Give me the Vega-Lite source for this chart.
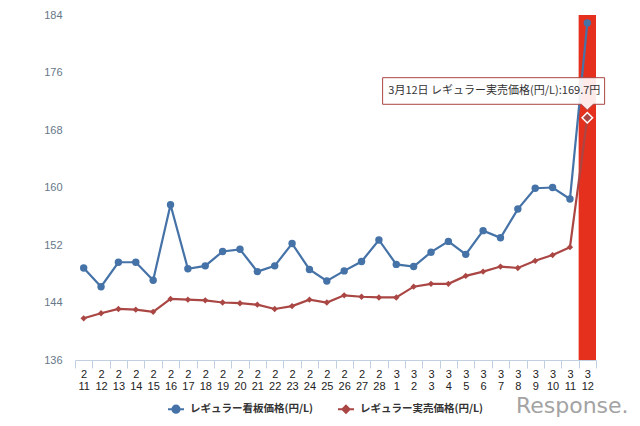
{
  "$schema": "https://vega.github.io/schema/vega-lite/v6.json",
  "width": 521,
  "height": 345,
  "autosize": {"type": "none"},
  "padding": {"left": 75, "top": 15, "right": 44, "bottom": 66},
  "background": "#ffffff",
  "datasets": {
    "prices": [
      {"date": "2/11", "series": "レギュラー看板価格(円/L)", "value": 148.8},
      {"date": "2/12", "series": "レギュラー看板価格(円/L)", "value": 146.2},
      {"date": "2/13", "series": "レギュラー看板価格(円/L)", "value": 149.6},
      {"date": "2/14", "series": "レギュラー看板価格(円/L)", "value": 149.6},
      {"date": "2/15", "series": "レギュラー看板価格(円/L)", "value": 147.1},
      {"date": "2/16", "series": "レギュラー看板価格(円/L)", "value": 157.6},
      {"date": "2/17", "series": "レギュラー看板価格(円/L)", "value": 148.7},
      {"date": "2/18", "series": "レギュラー看板価格(円/L)", "value": 149.1},
      {"date": "2/19", "series": "レギュラー看板価格(円/L)", "value": 151.1},
      {"date": "2/20", "series": "レギュラー看板価格(円/L)", "value": 151.4},
      {"date": "2/21", "series": "レギュラー看板価格(円/L)", "value": 148.3},
      {"date": "2/22", "series": "レギュラー看板価格(円/L)", "value": 149.1},
      {"date": "2/23", "series": "レギュラー看板価格(円/L)", "value": 152.2},
      {"date": "2/24", "series": "レギュラー看板価格(円/L)", "value": 148.6},
      {"date": "2/25", "series": "レギュラー看板価格(円/L)", "value": 147.0},
      {"date": "2/26", "series": "レギュラー看板価格(円/L)", "value": 148.4},
      {"date": "2/27", "series": "レギュラー看板価格(円/L)", "value": 149.7},
      {"date": "2/28", "series": "レギュラー看板価格(円/L)", "value": 152.7},
      {"date": "3/1", "series": "レギュラー看板価格(円/L)", "value": 149.3},
      {"date": "3/2", "series": "レギュラー看板価格(円/L)", "value": 149.0},
      {"date": "3/3", "series": "レギュラー看板価格(円/L)", "value": 151.0},
      {"date": "3/4", "series": "レギュラー看板価格(円/L)", "value": 152.5},
      {"date": "3/5", "series": "レギュラー看板価格(円/L)", "value": 150.7},
      {"date": "3/6", "series": "レギュラー看板価格(円/L)", "value": 154.0},
      {"date": "3/7", "series": "レギュラー看板価格(円/L)", "value": 153.0},
      {"date": "3/8", "series": "レギュラー看板価格(円/L)", "value": 157.0},
      {"date": "3/9", "series": "レギュラー看板価格(円/L)", "value": 159.9},
      {"date": "3/10", "series": "レギュラー看板価格(円/L)", "value": 160.0},
      {"date": "3/11", "series": "レギュラー看板価格(円/L)", "value": 158.4},
      {"date": "3/12", "series": "レギュラー看板価格(円/L)", "value": 182.9},
      {"date": "2/11", "series": "レギュラー実売価格(円/L)", "value": 141.8},
      {"date": "2/12", "series": "レギュラー実売価格(円/L)", "value": 142.5},
      {"date": "2/13", "series": "レギュラー実売価格(円/L)", "value": 143.1},
      {"date": "2/14", "series": "レギュラー実売価格(円/L)", "value": 143.0},
      {"date": "2/15", "series": "レギュラー実売価格(円/L)", "value": 142.7},
      {"date": "2/16", "series": "レギュラー実売価格(円/L)", "value": 144.5},
      {"date": "2/17", "series": "レギュラー実売価格(円/L)", "value": 144.4},
      {"date": "2/18", "series": "レギュラー実売価格(円/L)", "value": 144.3},
      {"date": "2/19", "series": "レギュラー実売価格(円/L)", "value": 144.0},
      {"date": "2/20", "series": "レギュラー実売価格(円/L)", "value": 143.9},
      {"date": "2/21", "series": "レギュラー実売価格(円/L)", "value": 143.7},
      {"date": "2/22", "series": "レギュラー実売価格(円/L)", "value": 143.1},
      {"date": "2/23", "series": "レギュラー実売価格(円/L)", "value": 143.5},
      {"date": "2/24", "series": "レギュラー実売価格(円/L)", "value": 144.4},
      {"date": "2/25", "series": "レギュラー実売価格(円/L)", "value": 144.0},
      {"date": "2/26", "series": "レギュラー実売価格(円/L)", "value": 145.0},
      {"date": "2/27", "series": "レギュラー実売価格(円/L)", "value": 144.8},
      {"date": "2/28", "series": "レギュラー実売価格(円/L)", "value": 144.7},
      {"date": "3/1", "series": "レギュラー実売価格(円/L)", "value": 144.7},
      {"date": "3/2", "series": "レギュラー実売価格(円/L)", "value": 146.2},
      {"date": "3/3", "series": "レギュラー実売価格(円/L)", "value": 146.6},
      {"date": "3/4", "series": "レギュラー実売価格(円/L)", "value": 146.6},
      {"date": "3/5", "series": "レギュラー実売価格(円/L)", "value": 147.7},
      {"date": "3/6", "series": "レギュラー実売価格(円/L)", "value": 148.3},
      {"date": "3/7", "series": "レギュラー実売価格(円/L)", "value": 149.0},
      {"date": "3/8", "series": "レギュラー実売価格(円/L)", "value": 148.8},
      {"date": "3/9", "series": "レギュラー実売価格(円/L)", "value": 149.8},
      {"date": "3/10", "series": "レギュラー実売価格(円/L)", "value": 150.6},
      {"date": "3/11", "series": "レギュラー実売価格(円/L)", "value": 151.7},
      {"date": "3/12", "series": "レギュラー実売価格(円/L)", "value": 169.7}
    ],
    "band": [{"date": "3/12"}],
    "tip": [{"date": "3/12", "value": 169.7, "label": "3月12日 レギュラー実売価格(円/L):169.7円"}]
  },
  "title": {
    "text": "Response.",
    "orient": "bottom",
    "anchor": "end",
    "color": "#a3a3a3",
    "font": "DejaVu Sans",
    "fontSize": 22,
    "fontWeight": "normal",
    "offset": 2,
    "dx": 22,
    "dy": -23
  },
  "encoding": {
    "x": {
      "field": "date",
      "type": "nominal",
      "sort": null,
      "scale": {"domain": ["2/11","2/12","2/13","2/14","2/15","2/16","2/17","2/18","2/19","2/20","2/21","2/22","2/23","2/24","2/25","2/26","2/27","2/28","3/1","3/2","3/3","3/4","3/5","3/6","3/7","3/8","3/9","3/10","3/11","3/12"], "paddingInner": 0, "paddingOuter": 0},
      "axis": {
        "title": null,
        "labelAngle": 0,
        "labelExpr": "isString(datum.value) ? split(datum.value, '/') : ''",
        "labelLineHeight": 12,
        "labelFontSize": 11,
        "labelColor": "#222222",
        "labelFont": "Liberation Sans",
        "labelPadding": 0,
        "tickBand": "extent",
        "tickSize": 8,
        "tickColor": "#c0d0e0",
        "domainColor": "#c0d0e0",
        "grid": false
      }
    }
  },
  "layer": [
    {
      "data": {"name": "band"},
      "mark": {"type": "rect", "color": "#e5301e"},
      "encoding": {
        "y": {"datum": 184, "type": "quantitative"},
        "y2": {"datum": 136}
      }
    },
    {
      "data": {"name": "prices"},
      "mark": {"type": "line", "strokeWidth": 2.2},
      "encoding": {
        "y": {
          "field": "value",
          "type": "quantitative",
          "scale": {"domain": [136, 184], "nice": false, "zero": false},
          "axis": {
            "title": null,
            "values": [136, 144, 152, 160, 168, 176, 184],
            "domain": false,
            "ticks": false,
            "labelPadding": 13,
            "labelFontSize": 11,
            "labelColor": "#667788",
            "labelFont": "Liberation Sans",
            "gridColor": "#e3e3e3"
          }
        },
        "color": {
          "field": "series",
          "type": "nominal",
          "scale": {"domain": ["レギュラー看板価格(円/L)", "レギュラー実売価格(円/L)"], "range": ["#4572a7", "#aa4643"]},
          "legend": {
            "title": null,
            "orient": "none",
            "direction": "horizontal",
            "legendX": 92,
            "legendY": 385,
            "labelFont": "Noto Sans CJK JP",
            "labelFontSize": 10.5,
            "labelColor": "#333333",
            "labelFontWeight": "bold",
            "labelOffset": 5,
            "columnPadding": 20,
            "symbolSize": 256,
            "symbolStrokeWidth": 2,
            "encode": {
              "symbols": {
                "update": {
                  "shape": {"signal": "datum.value === 'レギュラー看板価格(円/L)' ? 'M-1,0L1,0M-0.45,0A0.45,0.45 0 1,1 0.45,0A0.45,0.45 0 1,1 -0.45,0Z' : 'M-1,0L1,0M0,-0.45L0.45,0L0,0.45L-0.45,0Z'"},
                  "fill": {"signal": "datum.value === 'レギュラー看板価格(円/L)' ? '#4572a7' : '#aa4643'"},
                  "stroke": {"signal": "datum.value === 'レギュラー看板価格(円/L)' ? '#4572a7' : '#aa4643'"},
                  "strokeWidth": {"value": 2},
                  "strokeOpacity": {"value": 1},
                  "fillOpacity": {"value": 1},
                  "opacity": {"value": 1}
                }
              }
            }
          }
        }
      }
    },
    {
      "data": {"name": "prices"},
      "transform": [{"filter": "datum.series === 'レギュラー看板価格(円/L)'"}],
      "mark": {"type": "point", "filled": true, "opacity": 1, "shape": "circle", "size": 55},
      "encoding": {
        "y": {"field": "value", "type": "quantitative"},
        "color": {"field": "series", "type": "nominal"}
      }
    },
    {
      "data": {"name": "prices"},
      "transform": [{"filter": "datum.series === 'レギュラー実売価格(円/L)'"}],
      "mark": {"type": "point", "filled": true, "opacity": 1, "shape": "diamond", "size": 40},
      "encoding": {
        "y": {"field": "value", "type": "quantitative"},
        "color": {"field": "series", "type": "nominal"}
      }
    },
    {
      "data": {"name": "tip"},
      "mark": {
        "type": "point",
        "filled": true,
        "fill": "#ffffff",
        "fillOpacity": 0.9,
        "stroke": "#aa4643",
        "strokeWidth": 1,
        "size": 40000,
        "shape": "M-2.047,-0.401L0.173,-0.401L0.173,-0.135L0.06,-0.135L0,-0.078L-0.06,-0.135L-2.047,-0.135Z"
      },
      "encoding": {
        "y": {"field": "value", "type": "quantitative"}
      }
    },
    {
      "data": {"name": "tip"},
      "mark": {
        "type": "text",
        "font": "Noto Sans CJK JP",
        "fontSize": 11,
        "color": "#333333",
        "dx": -93,
        "dy": -27,
        "align": "center",
        "baseline": "middle"
      },
      "encoding": {
        "y": {"field": "value", "type": "quantitative"},
        "text": {"field": "label"}
      }
    },
    {
      "data": {"name": "tip"},
      "mark": {"type": "point", "shape": "diamond", "filled": true, "fill": "#aa4643", "stroke": "#ffffff", "strokeWidth": 1.5, "size": 110, "opacity": 1},
      "encoding": {
        "y": {"field": "value", "type": "quantitative"}
      }
    }
  ],
  "config": {
    "view": {"stroke": null},
    "axis": {"labelFont": "Liberation Sans"}
  }
}
